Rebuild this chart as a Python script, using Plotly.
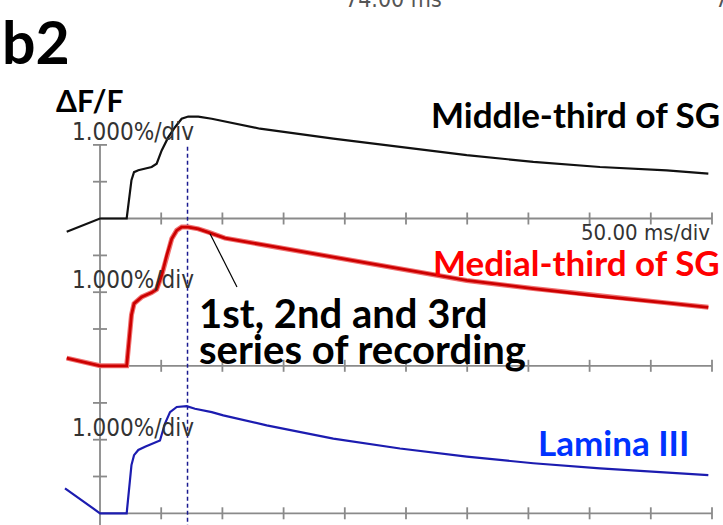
import plotly.graph_objects as go

# ---------------- data ----------------
# time in ms, amplitude in % dF/F
TIME_TICKS = [50, 100, 150, 200, 250, 300, 350, 400, 450, 500]
TOP_AMP_TICKS = [1, 2]
MID_AMP_TICKS = [1, 2, 3]
BOT_AMP_TICKS = [1, 2, 3]
CURSOR_MS = 71.5

mid_t = [-27.2, 0, 21.8, 23.3, 25.7, 27.8, 31.3, 42.2, 46.3, 50.4, 55.8, 61.3, 66.7, 72.1, 80.3,
         91.3, 102.1, 130.7, 190.6, 245.1, 299.6, 354.0, 408.5, 463.0, 497.0]
mid_v = [-0.36, 0, 0, 0.36, 1.04, 1.26, 1.31, 1.40, 1.49, 1.85, 2.21, 2.48, 2.71, 2.77, 2.77,
         2.71, 2.64, 2.44, 2.17, 1.94, 1.72, 1.54, 1.40, 1.31, 1.22]

med_t = [-27.2, 0, 21.8, 23.7, 25.7, 27.8, 31.3, 34.1, 42.2, 46.3, 50.4, 54.5, 58.6, 62.7, 66.7,
         72.1, 80.3, 88.5, 102.1, 136.2, 190.6, 245.1, 299.6, 354.0, 408.5, 463.0, 497.0]
med_v = [0.21, 0, 0, 0.70, 1.38, 1.69, 1.78, 1.87, 1.99, 2.08, 2.46, 3.00, 3.45, 3.68, 3.77,
         3.77, 3.72, 3.63, 3.47, 3.27, 2.95, 2.64, 2.32, 2.10, 1.89, 1.71, 1.59]

lam_t = [-28.6, 0, 21.8, 23.7, 25.7, 27.8, 31.3, 36.8, 44.9, 49.0, 53.1, 57.2, 62.7, 70.8, 77.6,
         91.3, 100.7, 136.2, 190.6, 245.1, 299.6, 354.0, 408.5, 463.0, 497.0]
lam_v = [0.68, 0, 0, 0.64, 1.31, 1.58, 1.72, 1.81, 1.91, 1.98, 2.44, 2.75, 2.89, 2.91, 2.84,
         2.75, 2.66, 2.39, 2.03, 1.76, 1.54, 1.36, 1.22, 1.11, 1.04]

# ---------------- layout geometry ----------------
W, H = 723, 525
X0PX, PX_PER_MS = 100.0, 1.224
PX_PER_PCT = 36.8
BASE_TOP, BASE_MID, BASE_BOT = 218.5, 365.8, 513.3

def yrange(base):
    return [-(H - base) / PX_PER_PCT, base / PX_PER_PCT]

def px(x):
    return x / W

def py(y):
    return 1 - y / H

AX_COL = "#8a8a8a"
AX_W = 1.8

fig = go.Figure()
fig.add_trace(go.Scatter(x=mid_t, y=mid_v, mode="lines", yaxis="y",
                         line=dict(color="#111111", width=2.2), showlegend=False))
fig.add_trace(go.Scatter(x=med_t, y=med_v, mode="lines", yaxis="y2",
                         line=dict(color="#f07070", width=5.0), showlegend=False))
fig.add_trace(go.Scatter(x=med_t, y=med_v, mode="lines", yaxis="y2",
                         line=dict(color="#cc0000", width=2.8), showlegend=False))
fig.add_trace(go.Scatter(x=lam_t, y=lam_v, mode="lines", yaxis="y3",
                         line=dict(color="#1c1cb0", width=2.2), showlegend=False))

shapes = []
# horizontal time axes with crossing ticks
for yr in ["y", "y2", "y3"]:
    shapes.append(dict(type="line", xref="x", yref=yr, x0=0, x1=TIME_TICKS[-1], y0=0, y1=0,
                       line=dict(color=AX_COL, width=AX_W), layer="below"))
    for t in TIME_TICKS:
        shapes.append(dict(type="line", xref="x", yref=yr, x0=t, x1=t,
                           ysizemode="pixel", yanchor=0, y0=-6, y1=6,
                           line=dict(color=AX_COL, width=AX_W), layer="below"))
# vertical amplitude axis
shapes.append(dict(type="line", xref="x", yref="y", x0=0, x1=0, y0=-9, y1=TOP_AMP_TICKS[-1],
                   line=dict(color=AX_COL, width=AX_W), layer="below"))
for yr, ticks in [("y", TOP_AMP_TICKS), ("y2", MID_AMP_TICKS), ("y3", BOT_AMP_TICKS)]:
    for v in ticks:
        shapes.append(dict(type="line", xref="x", yref=yr, y0=v, y1=v,
                           xsizemode="pixel", xanchor=0, x0=-7, x1=7,
                           line=dict(color=AX_COL, width=AX_W), layer="below"))
# cursor (dashed)
shapes.append(dict(type="line", xref="x", yref="y", x0=CURSOR_MS, x1=CURSOR_MS,
                   y0=-9, y1=TOP_AMP_TICKS[-1],
                   line=dict(color="#1a1a90", width=1.5, dash="4px,3px"), layer="below"))
# callout pointer line
shapes.append(dict(type="line", xref="x", yref="y2", x0=89.9, x1=111.9, y0=3.59, y1=2.14,
                   line=dict(color="#000000", width=1.2)))

ann = []
def add_text(text, x, y, size, color, family, xanchor="left", bold=False):
    ann.append(dict(text=("<b>%s</b>" % text) if bold else text, x=px(x), y=py(y),
                    xref="paper", yref="paper", xanchor=xanchor, yanchor="middle",
                    showarrow=False, font=dict(size=size, color=color, family=family)))

BOLD = "Lato, 'Open Sans', sans-serif"
SCOPE = "'Liberation Sans Narrow', 'DejaVu Sans Condensed', 'Liberation Sans', sans-serif"
add_text("b2", 0, 42, 59, "#000000", BOLD, bold=True)
add_text("ΔF/F", 54, 100, 30, "#000000", BOLD, bold=True)
add_text("74.00 ms", 343, -1, 23, "#555555", SCOPE)
add_text("7", 713, -1, 23, "#555555", SCOPE)
add_text("1.000%/div", 70, 132, 24, "#333333", SCOPE)
add_text("1.000%/div", 70, 280, 24, "#333333", SCOPE)
add_text("1.000%/div", 70, 428, 24, "#333333", SCOPE)
add_text("50.00 ms/div", 712, 232, 22, "#333333", SCOPE, xanchor="right")
add_text("Middle-third of SG", 722, 114, 35, "#000000", BOLD, xanchor="right", bold=True)
add_text("Medial-third of SG", 722, 262, 35, "#ff0000", BOLD, xanchor="right", bold=True)
add_text("Lamina III", 691, 442, 35, "#0033ff", BOLD, xanchor="right", bold=True)
add_text("1st, 2nd and 3rd", 197, 313, 40, "#000000", BOLD, bold=True)
add_text("series of recording", 197, 349, 40, "#000000", BOLD, bold=True)

axis_common = dict(visible=False, showgrid=False, zeroline=False, domain=[0, 1])
fig.update_layout(
    width=W, height=H,
    margin=dict(l=0, r=0, t=0, b=0),
    paper_bgcolor="white", plot_bgcolor="white",
    xaxis=dict(visible=False, range=[-X0PX / PX_PER_MS, (W - X0PX) / PX_PER_MS], domain=[0, 1]),
    yaxis=dict(range=yrange(BASE_TOP), **axis_common),
    yaxis2=dict(range=yrange(BASE_MID), overlaying="y", **axis_common),
    yaxis3=dict(range=yrange(BASE_BOT), overlaying="y", **axis_common),
    shapes=shapes,
    annotations=ann,
)

fig.write_html("out.html")
